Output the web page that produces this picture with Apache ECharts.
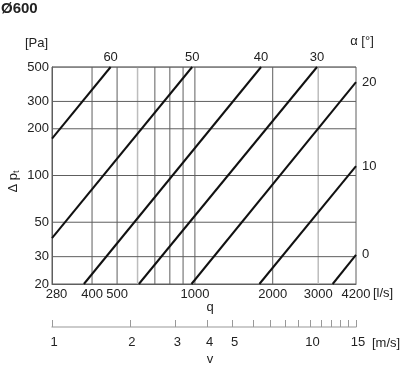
<!DOCTYPE html>
<html>
<head>
<meta charset="utf-8">
<script src="https://cdn.jsdelivr.net/npm/echarts@6/dist/echarts.min.js"></script>
<style>html,body{margin:0;padding:0;background:#fff}#c{width:400px;height:366px}</style>
</head>
<body>
<div id="c"></div>
<script>
// ---- data ----
const qLabels = [280, 400, 500, 1000, 2000, 3000, 4200];          // l/s
const qGrid = [400, 500, 600, 700, 800, 900, 1000, 2000, 3000];
const qGridGrey = [600, 3000];
const pLabels = [20, 30, 50, 100, 200, 300, 500];                 // Pa
const pGrid = [30, 50, 100, 200, 300, 500];
const vTicks = [1, 2, 3, 4, 5, 6, 7, 8, 9, 10, 11, 12, 13, 14, 15]; // m/s
const vLabels = [1, 2, 3, 4, 5, 10, 15];
const angles = ['60', '50', '40', '30', '20', '10', '0'];
const lineStartQ = [280, 280, 372, 607, 970, 1776, 3411];
const lineStartP = [173, 39.5, 20, 20, 20, 20, 20];
const lineEndQ = [472, 976, 1803, 2968, 4200, 4200, 4200];
const lineEndP = [500, 500, 500, 500, 400, 115, 30.8];
const qMin = 280, qMax = 4200, pMin = 20, pMax = 500, vMin = 1, vMax = 15;

const L = Math.log10;
const FONT = "'Liberation Sans', Arial, sans-serif";
const TXT = '#222';
const GRID = '#5e5e5e';

const series = [];
// grid lines
qGrid.forEach(q => {
  series.push({
    type: 'line', xAxisIndex: 0, yAxisIndex: 0, silent: true, symbol: 'none', z: 1,
    data: [[L(q), L(pMin)], [L(q), L(pMax)]],
    lineStyle: { color: qGridGrey.includes(q) ? '#bdbdbd' : GRID, width: qGridGrey.includes(q) ? 1.5 : 1 }
  });
});
pGrid.forEach(p => {
  series.push({
    type: 'line', xAxisIndex: 0, yAxisIndex: 0, silent: true, symbol: 'none', z: 1,
    data: [[L(qMin), L(p)], [L(qMax), L(p)]],
    lineStyle: { color: GRID, width: 1 }
  });
});
// characteristic lines
angles.forEach((a, i) => {
  const atTop = lineEndP[i] >= pMax;
  series.push({
    type: 'line', xAxisIndex: 0, yAxisIndex: 0, silent: true, z: 3,
    symbol: 'circle', symbolSize: 0, showSymbol: true,
    lineStyle: { color: '#111', width: 2 },
    itemStyle: { color: '#111' },
    data: [
      [L(lineStartQ[i]), L(lineStartP[i])],
      { value: [L(lineEndQ[i]), L(lineEndP[i])],
        label: { show: true, formatter: a, position: atTop ? 'top' : 'right',
                 distance: atTop ? 3 : 6, color: TXT, fontSize: 13, fontFamily: FONT } }
    ]
  });
});

const hidden = { axisLine: { show: false }, axisTick: { show: false }, axisLabel: { show: false }, splitLine: { show: false } };

const option = {
  animation: false,
  backgroundColor: '#fff',
  textStyle: { fontFamily: FONT, color: TXT },
  title: { text: 'Ø600', left: 1, top: 1, padding: 0,
           textStyle: { fontSize: 15, fontWeight: 'bold', color: TXT, fontFamily: FONT } },
  grid: { left: 52, right: 44, top: 67, bottom: 82, show: true, borderColor: GRID, borderWidth: 1,
          containLabel: false, outerBoundsMode: 'none' },
  xAxis: [
    { type: 'value', min: L(qMin), max: L(qMax), position: 'bottom',
      name: 'q', nameLocation: 'middle', nameGap: 17, nameMoveOverlap: false,
      nameTextStyle: { fontSize: 13, color: TXT, padding: [0, 0, 0, 12] },
      axisLine: { show: true, lineStyle: { color: GRID } },
      axisTick: { show: false }, splitLine: { show: false },
      axisLabel: { customValues: qLabels.map(L), margin: 4, fontSize: 13, color: TXT,
        formatter: v => { const n = Math.round(Math.pow(10, v)); return n === 280 ? '{s|280}' : String(n); },
        rich: { s: { padding: [0, 0, 0, 9], fontSize: 13, color: TXT } } } },
    Object.assign({ type: 'value', min: L(qMin), max: L(qMax), position: 'bottom',
      name: '[l/s]', nameLocation: 'end', nameGap: 17, nameMoveOverlap: false,
      nameTextStyle: { fontSize: 13, color: TXT, verticalAlign: 'top', padding: [3, 0, 0, 0] } }, hidden),
    { type: 'value', min: L(vMin), max: L(vMax), position: 'bottom', offset: 43,
      name: 'v', nameLocation: 'middle', nameGap: 26, nameMoveOverlap: false,
      nameTextStyle: { fontSize: 13, color: TXT, padding: [0, 0, 0, 12] },
      axisLine: { show: true, lineStyle: { color: '#bbb', width: 1.5 } },
      axisTick: { show: true, inside: true, length: 7, customValues: vTicks.map(L), lineStyle: { color: '#999' } },
      splitLine: { show: false },
      axisLabel: { customValues: vLabels.map(L), margin: 9, fontSize: 13, color: TXT, padding: [0, 0, 0, 4],
        formatter: v => String(Math.round(Math.pow(10, v))) } },
    Object.assign({ type: 'value', min: L(vMin), max: L(vMax), position: 'bottom', offset: 43,
      name: '[m/s]', nameLocation: 'end', nameGap: 16, nameMoveOverlap: false,
      nameTextStyle: { fontSize: 13, color: TXT, verticalAlign: 'top', padding: [10, 0, 0, 0] } }, hidden)
  ],
  yAxis: [
    { type: 'value', min: L(pMin), max: L(pMax), position: 'left',
      name: '{a|Δ p}{b|t}', nameLocation: 'middle', nameRotate: 90, nameGap: 31, nameMoveOverlap: false,
      nameTextStyle: { color: TXT, padding: [0, 12, 0, 0],
        rich: { a: { fontSize: 13, lineHeight: 16, color: TXT }, b: { fontSize: 9, lineHeight: 16, verticalAlign: 'bottom', color: TXT } } },
      axisLine: { show: true, lineStyle: { color: GRID } },
      axisTick: { show: false }, splitLine: { show: false },
      axisLabel: { customValues: pLabels.map(L), margin: 3, fontSize: 13, color: TXT,
        formatter: v => String(Math.round(Math.pow(10, v))) } },
    Object.assign({ type: 'value', min: L(pMin), max: L(pMax), position: 'left',
      name: '[Pa]', nameLocation: 'end', nameGap: 17, nameMoveOverlap: false,
      nameTextStyle: { fontSize: 13, color: TXT, align: 'right', padding: [0, 4, 0, 0] } }, hidden),
    Object.assign({ type: 'value', min: L(pMin), max: L(pMax), position: 'right',
      name: 'α [°]', nameLocation: 'end', nameGap: 19, nameMoveOverlap: false,
      nameTextStyle: { fontSize: 13, color: TXT, padding: [0, 0, 0, 12] } }, hidden)
  ],
  series: series
};
echarts.init(document.getElementById('c'), null, { renderer: 'canvas' }).setOption(option);
</script>
</body>
</html>
